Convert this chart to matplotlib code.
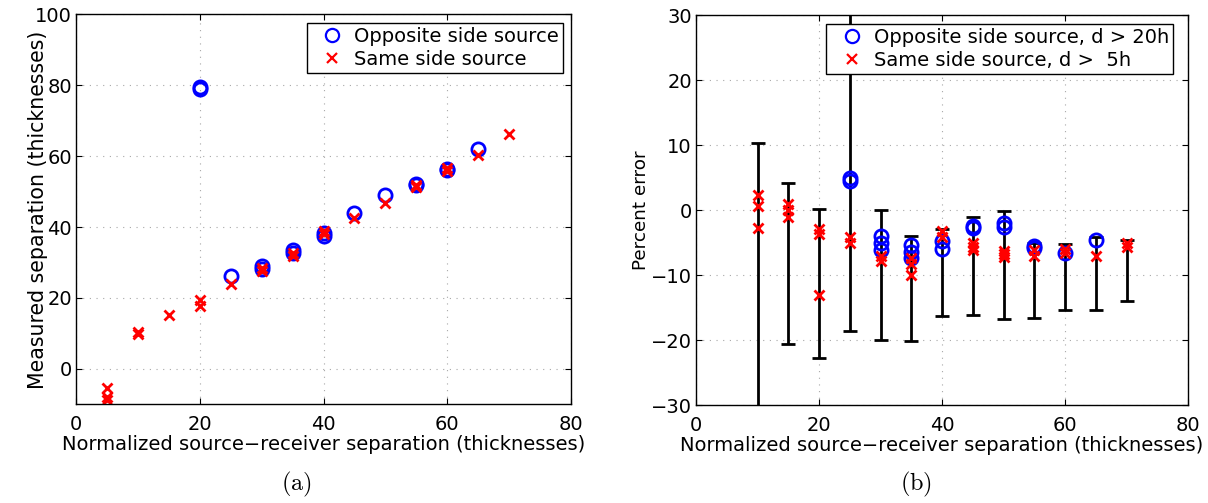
import numpy as np
import matplotlib
matplotlib.use("Agg")
import matplotlib.pyplot as plt

plt.rcParams["font.family"] = ["DejaVu Sans"]
plt.rcParams["mathtext.fontset"] = "cm"
plt.rcParams["font.size"] = 14

# (a) measured vs. normalized separation
sep_opp = [20, 20, 25, 30, 30, 35, 35, 40, 40, 45, 50, 55, 55, 60, 60, 65]
meas_opp = [79.0, 79.5, 26.3, 28.2, 28.9, 32.6, 33.4, 37.6, 38.3, 43.9,
            48.9, 51.8, 52.1, 56.1, 56.4, 62.1]
sep_same = [5, 5, 5, 10, 10, 15, 20, 20, 25, 30, 30, 35, 35, 40, 40, 45,
            50, 55, 55, 60, 60, 65, 70]
meas_same = [-5.4, -7.8, -8.9, 9.9, 10.4, 15.2, 19.4, 17.6, 23.8, 27.6, 28.4,
             31.8, 32.6, 37.9, 38.9, 42.6, 46.7, 51.3, 52.0, 55.9, 56.6,
             60.4, 66.2]

# (b) percent error
err_sep_opp = [25, 25, 30, 30, 30, 35, 35, 35, 40, 40, 45, 45, 50, 50,
               55, 55, 60, 65]
err_opp = [4.5, 5.0, -4.0, -5.0, -6.1, -5.4, -6.4, -7.4, -4.7, -5.9, -2.4,
           -2.7, -2.0, -2.5, -5.5, -5.8, -6.5, -4.6]
err_sep_same = [10, 10, 10, 15, 15, 15, 20, 20, 20, 25, 25, 30, 30, 35, 35,
                35, 40, 40, 45, 45, 45, 50, 50, 50, 55, 55, 60, 60, 65, 70, 70]
err_same = [2.4, 0.7, -2.7, 1.0, 0.0, -1.0, -2.8, -3.7, -13.1, -4.1, -5.1,
            -7.0, -7.8, -7.4, -8.3, -10.0, -3.2, -4.1, -5.1, -5.6, -6.1,
            -6.2, -6.7, -7.2, -6.1, -7.1, -6.0, -6.5, -7.1, -5.0, -5.6]

# error bar ranges
bar_sep = [10, 15, 20, 25, 30, 35, 40, 45, 50, 55, 60, 65, 70]
bar_lo = [-40, -20.5, -22.7, -18.6, -19.9, -20.1, -16.3, -16.1, -16.7,
          -16.5, -15.3, -15.4, -13.9]
bar_hi = [10.3, 4.2, 0.25, 40, 0.0, -3.9, -2.9, -1.0, -0.1, -5.0, -5.2,
          -4.1, -4.6]

xlabel = "Normalized source\u2212receiver separation (thicknesses)"

circ = dict(linestyle="none", marker="o", ms=9.5, mfc="none", mec="blue", mew=2)
cross = dict(linestyle="none", marker="x", ms=6.5, color="red", mew=2)


def style_axes(ax):
    ax.grid(True, color="#a8a8a8", linestyle=(0, (1, 5)), linewidth=0.8)
    ax.set_axisbelow(True)
    ax.tick_params(direction="in", length=4, width=0.8, top=True, right=True,
                   labelsize=14)
    ax.tick_params(axis="x", pad=7.5)
    ax.tick_params(axis="y", pad=3)
    for s in ax.spines.values():
        s.set_linewidth(1.0)


def add_legend(ax, anchor):
    leg = ax.legend(loc="upper left", bbox_to_anchor=anchor, fontsize=14,
                    frameon=True, fancybox=False, edgecolor="black",
                    framealpha=1, borderpad=0.2, labelspacing=0.21,
                    handlelength=2.2, handletextpad=0.05, borderaxespad=0)
    leg.get_frame().set_linewidth(1.0)
    for h in leg.legend_handles:
        h.set_markeredgewidth(1.6)


fig = plt.figure(figsize=(12.08, 5.03), dpi=100)
ax1 = fig.add_axes([0.0629, 0.1962, 0.4098, 0.7753])
ax2 = fig.add_axes([0.5762, 0.1942, 0.4073, 0.7753])

ax1.plot(sep_opp, meas_opp, label="Opposite side source", **circ)
ax1.plot(sep_same, meas_same, label="Same side source", **cross)
ax1.set_xlim(0, 80)
ax1.set_ylim(-10, 100)
ax1.set_xticks(np.arange(0, 81, 20))
ax1.set_yticks(np.arange(0, 101, 20))
ax1.set_xlabel(xlabel, labelpad=1)
ax1.set_ylabel("Measured separation (thicknesses)", fontsize=14.8)
ax1.yaxis.set_label_coords(-0.0566, 0.5)
style_axes(ax1)
add_legend(ax1, (0.466, 0.977))

mid = (np.array(bar_hi) + np.array(bar_lo)) / 2
half = (np.array(bar_hi) - np.array(bar_lo)) / 2
ax2.errorbar(bar_sep, mid, yerr=half, fmt="none", ecolor="black",
             elinewidth=2, capsize=5, capthick=2)
ax2.plot(err_sep_opp, err_opp, label="Opposite side source, d > 20h", **circ)
ax2.plot(err_sep_same, err_same, label="Same side source, d >  5h", **cross)
ax2.set_xlim(0, 80)
ax2.set_ylim(-30, 30)
ax2.set_xticks(np.arange(0, 81, 20))
ax2.set_yticks(np.arange(-30, 31, 10))
ax2.set_xlabel(xlabel, labelpad=1)
ax2.set_ylabel("Percent error", fontsize=13.2)
ax2.yaxis.set_label_coords(-0.0935, 0.5)
style_axes(ax2)
add_legend(ax2, (0.265, 0.978))

fig.text(296.7 / 1208, 1 - 484.5 / 503, r"$\mathrm{(a)}$", fontsize=17.5,
         ha="center", va="center")
fig.text(915.6 / 1208, 1 - 484.5 / 503, r"$\mathrm{(b)}$", fontsize=17.5,
         ha="center", va="center")

fig.savefig("out.png", dpi=100)
